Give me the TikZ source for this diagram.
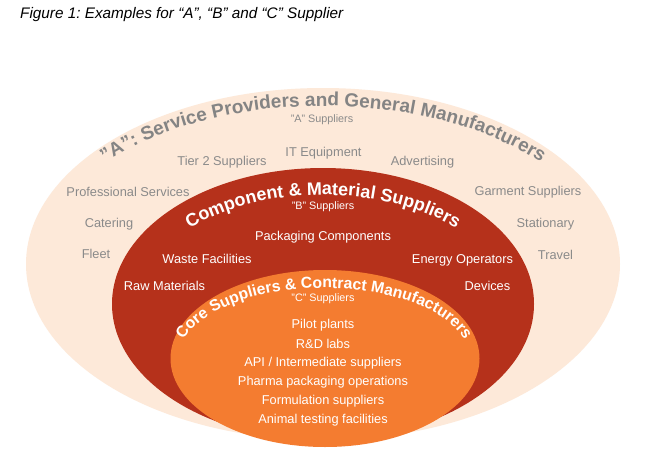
\documentclass[tikz,border=0pt]{standalone}
\usepackage{fontspec}
\setmainfont{Liberation Sans}
\usetikzlibrary{decorations.text,shapes.geometric}
\definecolor{cream}{HTML}{FDE9D9}
\definecolor{brick}{HTML}{B5311B}
\definecolor{tang}{HTML}{F47C30}
\definecolor{graytxt}{HTML}{8A8A8A}
\definecolor{grayarc}{HTML}{848484}
\frenchspacing
\begin{document}
\begin{tikzpicture}[x=1pt,y=1pt,
  lbl/.style={font=\fontsize{12.8}{14}\selectfont, inner sep=0pt},
  graylbl/.style={lbl, text=graytxt},
  whitelbl/.style={lbl, text=white},
  sublbl/.style={font=\fontsize{10.8}{12}\selectfont, inner sep=0pt},
  ring/.style={ellipse, draw=none, inner sep=0pt},
]
\useasboundingbox (0,0) rectangle (669,459);
\fill[white] (0,0) rectangle (669,459);
\node[anchor=base west, font=\itshape\fontsize{15.3}{17}\selectfont, inner sep=0pt] (title) at (20,440) {Figure 1: Examples for “A”, “B” and “C” Supplier};

\node[ring, fill=cream, minimum width=594, minimum height=352] (outer) at (323,195) {};
\node[ring, fill=brick, minimum width=422, minimum height=272] (middle) at (323,155) {};
\node[ring, fill=tang, minimum width=309, minimum height=177] (inner) at (325,100.5) {};

\begin{scope}[shift={(323,195)}]
\path[decorate, decoration={text along path, text align=center, text color=grayarc,
  text={|\bfseries\fontsize{19}{19}\selectfont|"A": Service Providers and General Manufacturers}}]
  (175:284 and 158) arc[start angle=175, end angle=5, x radius=284, y radius=158];
\end{scope}
\begin{scope}[shift={(323,155)}]
\path[decorate, decoration={text along path, text align=center, text color=white,
  text={|\bfseries\fontsize{18}{18}\selectfont|Component {\&} Material Suppliers}}]
  (180:185 and 109) arc[start angle=180, end angle=0, x radius=185, y radius=109];
\end{scope}
\begin{scope}[shift={(324,101)}]
\path[decorate, decoration={text along path, text align=center, text color=white,
  text={|\bfseries\fontsize{15.8}{15.8}\selectfont|Core Suppliers {\&} Contract Manufacturers}}]
  (195:145 and 70) arc[start angle=195, end angle=-15, x radius=145, y radius=70];
\end{scope}

\node[sublbl, text=graytxt] (asub) at (322,339.5) {"A" Suppliers};
\node[graylbl] (tier) at (222,297) {Tier 2 Suppliers};
\node[graylbl] (itq) at (323.5,306) {IT Equipment};
\node[graylbl] (adv) at (422.5,297) {Advertising};
\node[graylbl] (prof) at (128,267) {Professional Services};
\node[graylbl] (garm) at (528,267) {Garment Suppliers};
\node[graylbl] (cat) at (109,235) {Catering};
\node[graylbl] (stat) at (545.5,235) {Stationary};
\node[graylbl] (fleet) at (96,205) {Fleet};
\node[graylbl] (trav) at (555.5,204) {Travel};

\node[sublbl, text=white] (bsub) at (323,252) {"B" Suppliers};
\node[whitelbl] (pack) at (323,222) {Packaging Components};
\node[whitelbl] (waste) at (207,200) {Waste Facilities};
\node[whitelbl] (energy) at (462.5,199) {Energy Operators};
\node[whitelbl] (raw) at (164.5,173) {Raw Materials};
\node[whitelbl] (dev) at (487.5,173) {Devices};

\node[sublbl, text=white] (csub) at (323,160.5) {"C" Suppliers};
\node[whitelbl] (pilot) at (323,134) {Pilot plants};
\node[whitelbl] (rd) at (323,115) {R\&D labs};
\node[whitelbl] (api) at (323,96) {API / Intermediate suppliers};
\node[whitelbl] (pharma) at (323,77) {Pharma packaging operations};
\node[whitelbl] (form) at (323,58) {Formulation suppliers};
\node[whitelbl] (anim) at (323,39) {Animal testing facilities};
\end{tikzpicture}
\end{document}
